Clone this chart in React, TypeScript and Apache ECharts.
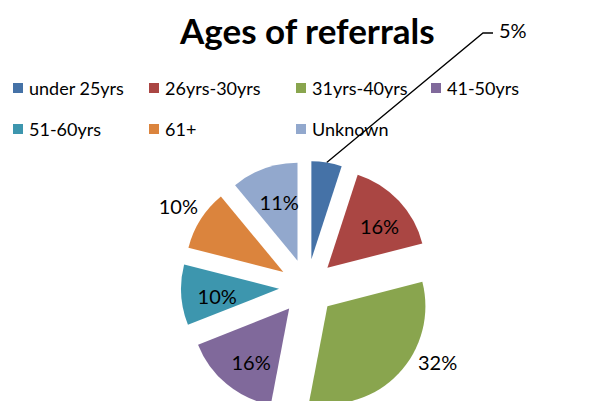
import React, { useEffect, useRef } from "react";
import * as echarts from "echarts";

const categories = ["under 25yrs", "26yrs-30yrs", "31yrs-40yrs", "41-50yrs", "51-60yrs", "61+", "Unknown"];
const values = [5, 16, 32, 16, 10, 10, 11];
const colors = ["#4572A7", "#AA4643", "#89A54E", "#80699B", "#3D96AE", "#DB843D", "#92A8CD"];
const legendColumns = [
  ["under 25yrs", "51-60yrs"],
  ["26yrs-30yrs", "61+"],
  ["31yrs-40yrs", "Unknown"],
  ["41-50yrs"],
];
const legendLefts = [13, 149, 296, 431];
const outsideLabels: Record<number, { x: number; y: number; align: string; line: boolean }> = {
  0: { x: 499, y: 30, align: "left", line: true },
  2: { x: 418, y: 362, align: "left", line: false },
  5: { x: 198, y: 206, align: "right", line: false },
};

const FONT = "Lato, 'Noto Sans', sans-serif";
const OFFSET = 28;

export default function App() {
  const ref = useRef<HTMLDivElement>(null);
  useEffect(() => {
    if (!ref.current) return;
    const chart = echarts.init(ref.current, undefined, { renderer: "svg" });
    const total = values.reduce((a, b) => a + b, 0);
    const mids: number[] = [];
    let cum = 0;
    values.forEach((v) => {
      mids.push(((cum + v / 2) / total) * Math.PI * 2);
      cum += v;
    });
    const extra = 14;
    const data = categories.map((name, i) => {
      const o = outsideLabels[i];
      if (o) {
        return {
          name,
          value: values[i],
          selected: true,
          label: { position: "outside" },
          labelLine: { show: o.line, length: 20, length2: 10, lineStyle: { color: "#000", width: 1.3 } },
        };
      }
      return { name, value: values[i], selected: true };
    });
    chart.setOption({
      animation: false,
      backgroundColor: "#ffffff",
      color: colors,
      title: {
        text: "Ages of referrals",
        left: 175,
        top: 7,
        textStyle: { fontFamily: FONT, fontWeight: "bold", fontSize: 35, color: "#000" },
      },
      legend: legendColumns.map((col, c) => ({
        data: col,
        orient: "vertical",
        left: legendLefts[c],
        top: 78,
        padding: 0,
        itemWidth: 10,
        itemHeight: 10,
        itemGap: 21,
        icon: "rect",
        selectedMode: false,
        textStyle: { fontFamily: FONT, fontSize: 18, color: "#000", lineHeight: 20, padding: [0, 0, 0, 1] },
      })),
      series: [
        {
          type: "pie",
          center: [307, 287],
          radius: 98,
          startAngle: 90,
          clockwise: true,
          selectedMode: "multiple",
          selectedOffset: OFFSET,
          emphasis: { disabled: true },
          label: {
            show: true,
            position: "inside",
            formatter: "{d}%",
            fontFamily: FONT,
            fontSize: 20,
            color: "#000",
          },
          labelLine: { show: false },
          labelLayout: (p: any) => {
            const i = p.dataIndex;
            const o = outsideLabels[i];
            const offx = OFFSET * Math.sin(mids[i]);
            const offy = -OFFSET * Math.cos(mids[i]);
            if (o) {
              const r = p.labelRect;
              const dx = (o.align === "left" ? o.x - r.x : o.x - (r.x + r.width)) - offx;
              const dy = o.y - (r.y + r.height / 2) - offy;
              const res: any = { dx, dy };
              if (o.line && p.labelLinePoints) {
                const start = p.labelLinePoints[0];
                const ly = o.y + 3;
                res.labelLinePoints = [
                  start,
                  [o.x - 16 - offx, ly - offy],
                  [o.x - 6 - offx, ly - offy],
                ];
              }
              return res;
            }
            return { dx: extra * Math.sin(mids[i]) + 4, dy: -extra * Math.cos(mids[i]) + 3 };
          },
          data,
        },
      ],
    });
    return () => chart.dispose();
  }, []);
  return (
    <div
      ref={ref}
      style={{ position: "absolute", left: 0, top: 0, width: 610, height: 401 }}
    />
  );
}
